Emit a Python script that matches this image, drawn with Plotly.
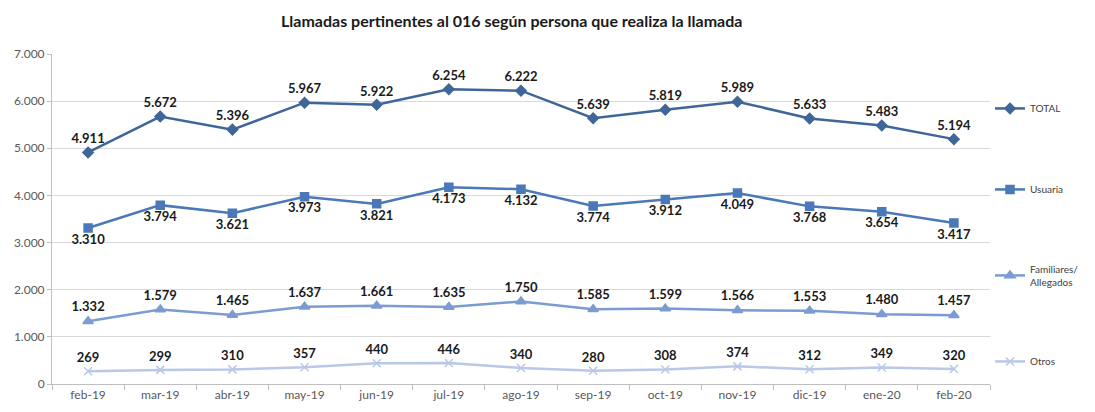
import plotly.graph_objects as go

months = ["feb-19", "mar-19", "abr-19", "may-19", "jun-19", "jul-19", "ago-19",
          "sep-19", "oct-19", "nov-19", "dic-19", "ene-20", "feb-20"]
total = [4911, 5672, 5396, 5967, 5922, 6254, 6222, 5639, 5819, 5989, 5633, 5483, 5194]
usuaria = [3310, 3794, 3621, 3973, 3821, 4173, 4132, 3774, 3912, 4049, 3768, 3654, 3417]
familiares = [1332, 1579, 1465, 1637, 1661, 1635, 1750, 1585, 1599, 1566, 1553, 1480, 1457]
otros = [269, 299, 310, 357, 440, 446, 340, 280, 308, 374, 312, 349, 320]
y_ticks = [0, 1000, 2000, 3000, 4000, 5000, 6000, 7000]
y_tick_labels = ["0", "1.000", "2.000", "3.000", "4.000", "5.000", "6.000", "7.000"]

def fmt(v):
    return f"{v:,}".replace(",", ".")

series = [
    ("TOTAL", total, "#3F6699", "diamond", 8, "top center"),
    ("Usuaria", usuaria, "#4A78B8", "square", 8, "bottom center"),
    ("Familiares/<br>Allegados", familiares, "#7B9CD0", "triangle-up", 9, "top center"),
    ("Otros", otros, "#B9C8E6", "x-thin", 8, "top center"),
]

fig = go.Figure()
for i, (name, vals, color, sym, size, pos) in enumerate(series):
    fig.add_trace(go.Scatter(
        x=months, y=vals, name=name, mode="lines+markers+text",
        line=dict(color=color, width=2.5),
        marker=dict(symbol=sym, size=size, color=color,
                    line=dict(color=color, width=1.5)),
        text=[fmt(v) for v in vals], textposition=pos,
        textfont=dict(family="Lato, sans-serif", size=13, color="#1a1a1a", weight="bold"),
        legendgroup=f"g{i}", cliponaxis=False,
    ))

fig.update_layout(
    width=1095, height=412,
    paper_bgcolor="white", plot_bgcolor="white",
    margin=dict(l=44, r=113, t=46, b=36, autoexpand=False),
    title=dict(text="<b>Llamadas pertinentes al 016 según persona que realiza la llamada</b>",
               x=0.46, xanchor="center", yref="container", y=0.968, yanchor="middle",
               font=dict(family="Lato, sans-serif", size=16, color="#1a1a1a")),
    font=dict(family="Lato, sans-serif", size=12, color="#595959"),
    xaxis=dict(showgrid=False, showline=True, linecolor="#BFBFBF", linewidth=1,
               ticks="outside", ticklen=5, tickcolor="#BFBFBF", tickson="boundaries",
               tickfont=dict(size=12, color="#595959"), range=[-0.5, 12.5]),
    yaxis=dict(range=[0, 7000], tickvals=y_ticks, ticktext=y_tick_labels,
               showgrid=True, gridcolor="#D9D9D9", gridwidth=1,
               showline=True, linecolor="#BFBFBF", zeroline=False,
               ticks="outside", ticklen=4, tickcolor="#BFBFBF",
               tickfont=dict(size=12, color="#595959")),
    legend=dict(x=1.0, xanchor="left", y=0.879, yanchor="top",
                traceorder="grouped", tracegroupgap=62,
                font=dict(size=10, color="#404040"), itemwidth=30,
                bgcolor="rgba(0,0,0,0)"),
    showlegend=True,
)

fig.write_html("out.html")
